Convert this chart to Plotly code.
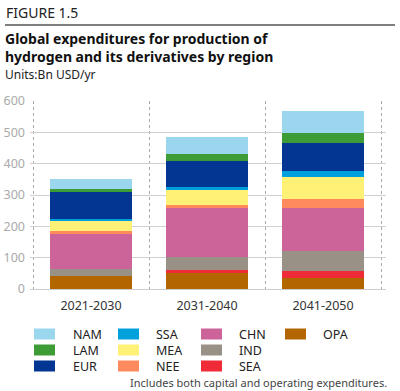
import plotly.graph_objects as go

periods = ["2021-2030", "2031-2040", "2041-2050"]

# stack order bottom -> top
regions = ["OPA", "SEA", "IND", "CHN", "NEE", "MEA", "SSA", "EUR", "LAM", "NAM"]
OPA = [42, 52, 35]
SEA = [1, 9, 22]
IND = [22, 41, 65]
CHN = [112, 155, 135]
NEE = [8, 11, 31]
MEA = [35, 47, 69]
SSA = [3, 10, 20]
EUR = [85, 84, 88]
LAM = [12, 22, 34]
NAM = [30, 54, 69]
values = {"OPA": OPA, "SEA": SEA, "IND": IND, "CHN": CHN, "NEE": NEE,
          "MEA": MEA, "SSA": SSA, "EUR": EUR, "LAM": LAM, "NAM": NAM}

colors = {"NAM": "#9ad7ef", "LAM": "#3d9c36", "EUR": "#033693", "SSA": "#00a0dc",
          "MEA": "#fff176", "NEE": "#ff8a5e", "CHN": "#cc6399", "IND": "#999086",
          "SEA": "#ef2b38", "OPA": "#b36600"}

# legend columns (column-major)
legend_columns = [["NAM", "LAM", "EUR"], ["SSA", "MEA", "NEE"],
                  ["CHN", "IND", "SEA"], ["OPA"]]

y_ticks = [0, 100, 200, 300, 400, 500, 600]

FONT = "Noto Sans"
W, H = 400, 391
L, T = 30, 101
R = W - 386
B = H - 289
PW, PH = W - L - R, H - T - B


def px(x):
    """page pixel x -> paper coordinate"""
    return (x - L) / PW


def py(y):
    """page pixel y -> paper coordinate"""
    return (H - B - y) / PH


fig = go.Figure()
for r in regions:
    fig.add_trace(go.Bar(
        x=periods, y=values[r], name=r,
        marker=dict(color=colors[r], line=dict(width=0)),
        width=0.71,
    ))

fig.update_layout(
    barmode="stack",
    width=W, height=H,
    margin=dict(l=L, r=R, t=T, b=B, autoexpand=False),
    paper_bgcolor="white", plot_bgcolor="white",
    font=dict(family=FONT, size=12, color="#333"),
    showlegend=False,
    xaxis=dict(
        range=[-0.526, 2.543], tickson="boundaries", showgrid=True,
        gridcolor="#aaaaaa", griddash="dot", gridwidth=1,
        ticks="", showline=False, tickfont=dict(size=12.5, color="#333"),
        ticklabelstandoff=7, automargin=False,
    ),
    yaxis=dict(
        range=[0, 600], tickvals=y_ticks, showgrid=True, gridcolor="#d0d0d0",
        gridwidth=1, zeroline=True, zerolinecolor="#cccccc", zerolinewidth=1,
        tickfont=dict(size=12.5, color="#aaaaaa"), ticks="", ticklabelstandoff=4,
        automargin=False,
    ),
)

# manual legend
col_swatch_x = [34, 118, 201, 285]
col_text_x = [71, 154, 237, 321]
row_y = [334, 350, 366]
for ci, col in enumerate(legend_columns):
    for ri, name in enumerate(col):
        yc = row_y[ri]
        fig.add_shape(type="rect", xref="paper", yref="paper",
                      x0=px(col_swatch_x[ci]), x1=px(col_swatch_x[ci] + 21),
                      y0=py(yc + 5.5), y1=py(yc - 5.5),
                      fillcolor=colors[name], line=dict(width=0))
        fig.add_annotation(text=name, xref="paper", yref="paper",
                           x=px(col_text_x[ci]), y=py(yc),
                           xanchor="left", yanchor="middle", showarrow=False,
                           font=dict(size=12.5, color="#222", family=FONT))

fig.add_annotation(text="FIGURE 1.5", xref="paper", yref="paper",
                   x=px(4), y=py(12), xanchor="left", yanchor="middle",
                   showarrow=False, font=dict(size=14, color="#222", family=FONT))
fig.add_shape(type="line", xref="paper", yref="paper",
              x0=px(5), x1=px(395), y0=py(25), y1=py(25),
              line=dict(color="#555555", width=1.5))
fig.add_annotation(text="<b>Global expenditures for production of<br>hydrogen and its derivatives by region</b>",
                   xref="paper", yref="paper", align="left",
                   x=px(3), y=py(47), xanchor="left", yanchor="middle",
                   showarrow=False, font=dict(size=14, color="#111", family=FONT))
fig.add_annotation(text="Units:Bn USD/yr", xref="paper", yref="paper",
                   x=px(3), y=py(74), xanchor="left", yanchor="middle",
                   showarrow=False, font=dict(size=12, color="#222", family=FONT))
fig.add_annotation(text="Includes both capital and operating expenditures.",
                   xref="paper", yref="paper",
                   x=px(389), y=py(382), xanchor="right", yanchor="middle",
                   showarrow=False, font=dict(size=11, color="#444", family=FONT))

fig.write_html("out.html",
               config={"displayModeBar": False},
               post_script="document.body.style.margin='0';"
                           "document.body.style.overflow='hidden';")
